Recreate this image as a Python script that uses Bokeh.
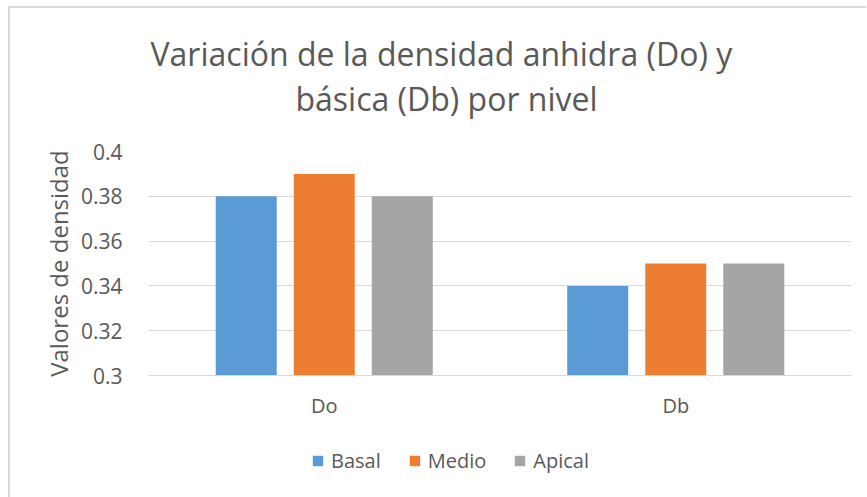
from bokeh.plotting import figure
from bokeh.layouts import column
from bokeh.models import ColumnDataSource, FactorRange, Range1d, FixedTicker, Title, Legend, LegendItem
from bokeh.transform import dodge
from bokeh.embed import file_html
from bokeh.resources import INLINE

categories = ["Do", "Db"]
series = ["Basal", "Medio", "Apical"]
basal = [0.38, 0.34]
medio = [0.39, 0.35]
apical = [0.38, 0.35]
colors = ["#5B9BD5", "#ED7D31", "#A5A5A5"]
y_ticks = [0.30, 0.32, 0.34, 0.36, 0.38, 0.40]
tick_labels = ["0.3", "0.32", "0.34", "0.36", "0.38", "0.4"]
title_lines = ["Variación de la densidad anhidra (Do) y", "básica (Db) por nivel"]
y_label = "Valores de densidad"

FONT = "Open Sans"
TXT = "#595959"
GRID = "#D9D9D9"

src = ColumnDataSource(dict(cat=categories, Basal=basal, Medio=medio, Apical=apical))
x_range = FactorRange(*categories, range_padding=0)

p = figure(x_range=x_range, y_range=Range1d(0.3, 0.4),
           frame_width=703, frame_height=224, output_backend="svg", toolbar_location=None,
           min_border_left=138, min_border_right=15, min_border_top=143, min_border_bottom=45)
p.outline_line_color = None

bar_w = 0.1735
step = 0.222
for i, (s, c) in enumerate(zip(series, colors)):
    p.vbar(x=dodge("cat", (i - 1) * step, range=x_range), top=s, bottom=0.3, width=bar_w,
           source=src, fill_color=c, line_color=None)

# titles, stacked from the frame upward: spacer, line 2, line 1
p.add_layout(Title(text=" ", text_font_size="10px", standoff=19), "above")
p.add_layout(Title(text=title_lines[1], align="left", text_font=FONT, text_font_size="32px",
                   text_color=TXT, text_font_style="normal", standoff=0, offset=147), "above")
p.add_layout(Title(text=title_lines[0], align="left", text_font=FONT, text_font_size="32px",
                   text_color=TXT, text_font_style="normal", standoff=0, offset=2), "above")

p.xgrid.grid_line_color = None
p.ygrid.grid_line_color = GRID
p.ygrid.grid_line_width = 1
p.yaxis.ticker = FixedTicker(ticks=y_ticks)
p.yaxis.major_label_overrides = {t: l for t, l in zip(y_ticks, tick_labels)}
p.yaxis.axis_line_color = None
p.yaxis.major_tick_line_color = None
p.yaxis.minor_tick_line_color = None
p.yaxis.major_label_standoff = 20
p.yaxis.major_label_text_font = FONT
p.yaxis.major_label_text_font_size = "21px"
p.yaxis.major_label_text_color = TXT
p.yaxis.axis_label = y_label
p.yaxis.axis_label_text_font = FONT
p.yaxis.axis_label_text_font_size = "24px"
p.yaxis.axis_label_text_font_style = "normal"
p.yaxis.axis_label_text_color = TXT
p.yaxis.axis_label_standoff = 3

p.xaxis.axis_line_color = GRID
p.xaxis.major_tick_line_color = None
p.xaxis.minor_tick_line_color = None
p.xaxis.major_label_standoff = 10
p.xaxis.major_label_text_font = FONT
p.xaxis.major_label_text_font_size = "20px"
p.xaxis.major_label_text_color = TXT

# legend strip below the chart (its frame is aligned with the chart's frame)
q = figure(width=856, height=85, x_range=x_range, y_range=Range1d(1, 2),
           x_axis_type=None, y_axis_type=None, output_backend="svg", toolbar_location=None,
           min_border=0)
q.outline_line_color = None
q.grid.grid_line_color = None
items = []
for i, (s, c) in enumerate(zip(series, colors)):
    r = q.vbar(x=dodge("cat", (i - 1) * step, range=x_range), top=s, bottom=0.3, width=bar_w,
               source=src, fill_color=c, line_color=None)
    items.append(LegendItem(label=s, renderers=[r]))
legend = Legend(items=items, orientation="horizontal", location=(163, 32),
                glyph_width=13, glyph_height=13, label_standoff=7, spacing=27,
                label_text_font=FONT, label_text_font_size="20px", label_text_color=TXT,
                border_line_color=None, background_fill_alpha=0, margin=0, padding=0)
q.add_layout(legend, "center")

layout = column(p, q, spacing=0)
layout.styles = {"border-left": "2px solid #D9D9D9", "border-top": "2px solid #D9D9D9",
                 "margin-left": "8px", "margin-top": "6px"}

open("out.html", "w").write(file_html(layout, INLINE))
